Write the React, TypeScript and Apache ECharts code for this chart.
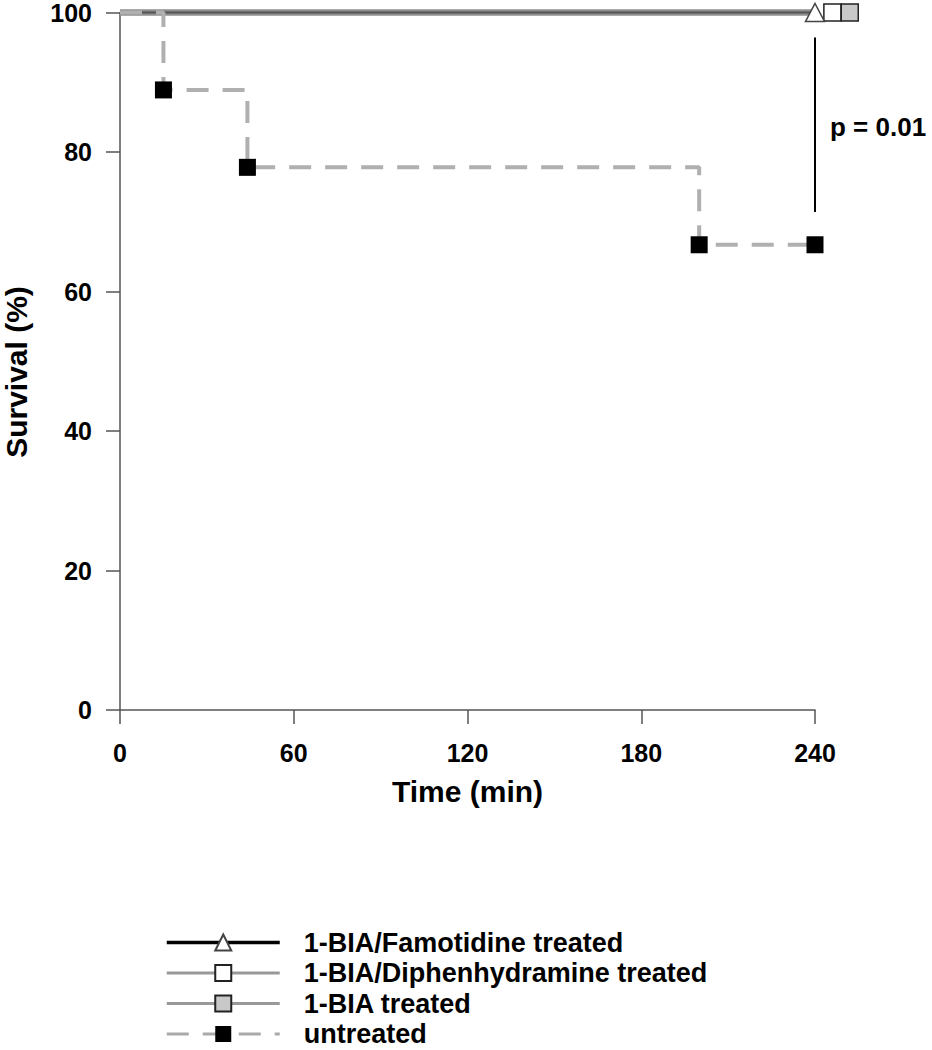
import React, { useEffect, useRef } from "react";
import * as echarts from "echarts";

// Kaplan–Meier style survival data (time in min, survival in %)
const famotidineData: [number, number][] = [[0, 100], [240, 100]];
const diphenhydramineData: [number, number][] = [[0, 100], [246, 100]];
const biaData: [number, number][] = [[0, 100], [252, 100]];
const untreatedData: [number, number][] = [
  [0, 100],
  [15, 88.9],
  [44, 77.8],
  [200, 66.7],
  [240, 66.7],
];
const xTicks = [0, 60, 120, 180, 240];
const yTicks = [0, 20, 40, 60, 80, 100];
const pLine: [number, number][] = [[240, 96.4], [240, 71.4]];
const pText = "p = 0.01";
const seriesNames = [
  "1-BIA/Famotidine treated",
  "1-BIA/Diphenhydramine treated",
  "1-BIA treated",
  "untreated",
];

const FONT = "'Liberation Sans', Arial, Helvetica, sans-serif";

function lastOnly(data: [number, number][]) {
  return data.map((d, i) =>
    i === data.length - 1 ? { value: d } : { value: d, symbol: "none" }
  );
}

export default function App() {
  const ref = useRef<HTMLDivElement>(null);
  useEffect(() => {
    document.body.style.margin = "0";
    if (!ref.current) return;
    const chart = echarts.init(ref.current, undefined, { renderer: "svg" });
    const axisColor = "#555";
    const option: any = {
      animation: false,
      backgroundColor: "#fff",
      grid: { left: 120, right: 117, top: 12, bottom: 340, containLabel: false },
      xAxis: {
        type: "value",
        min: xTicks[0],
        max: xTicks[xTicks.length - 1],
        interval: 60,
        name: "Time (min)",
        nameLocation: "middle",
        nameGap: 66,
        nameTextStyle: { fontFamily: FONT, fontWeight: "bold", fontSize: 30, color: "#000" },
        axisLine: { show: true, onZero: false, lineStyle: { color: axisColor, width: 1.5 } },
        axisTick: { show: true, inside: false, length: 14, lineStyle: { color: axisColor, width: 1.5 } },
        axisLabel: { margin: 30, fontFamily: FONT, fontWeight: "bold", fontSize: 25, color: "#000" },
        splitLine: { show: false },
      },
      yAxis: {
        type: "value",
        min: yTicks[0],
        max: yTicks[yTicks.length - 1],
        interval: 20,
        axisLine: { show: true, lineStyle: { color: axisColor, width: 1.5 } },
        axisTick: { show: true, inside: false, length: 14, lineStyle: { color: axisColor, width: 1.5 } },
        axisLabel: { margin: 28, fontFamily: FONT, fontWeight: "bold", fontSize: 25, color: "#000" },
        splitLine: { show: false },
      },
      legend: {
        orient: "vertical",
        left: 165,
        top: 929,
        padding: 0,
        itemWidth: 113,
        itemHeight: 20,
        itemGap: 3.5,
        selectedMode: false,
        textStyle: {
          fontFamily: FONT,
          fontWeight: "bold",
          fontSize: 27,
          lineHeight: 26,
          color: "#000",
          padding: [0, 0, 0, 19],
        },
        data: [
          { name: seriesNames[0], lineStyle: { color: "#000", width: 3.5 } },
          { name: seriesNames[1], lineStyle: { color: "#999", width: 3 } },
          { name: seriesNames[2], lineStyle: { color: "#999", width: 3 } },
          { name: seriesNames[3], lineStyle: { color: "#aaa", width: 3 } },
        ],
      },
      graphic: [
        {
          type: "text",
          x: 16,
          y: 372,
          rotation: Math.PI / 2,
          style: {
            text: "Survival (%)",
            fontFamily: FONT,
            fontWeight: "bold",
            fontSize: 30,
            fill: "#000",
            align: "center",
            verticalAlign: "middle",
          },
        },
        {
          type: "text",
          x: 830,
          y: 127,
          style: {
            text: pText,
            fontFamily: FONT,
            fontWeight: "bold",
            fontSize: 26,
            fill: "#000",
            align: "left",
            verticalAlign: "middle",
          },
        },
      ],
      series: [
        {
          name: seriesNames[2],
          type: "line",
          data: lastOnly(biaData),
          clip: false,
          z: 2,
          symbol: "rect",
          symbolSize: 17,
          showSymbol: true,
          lineStyle: { color: "#8f8f8f", width: 6 },
          itemStyle: { color: "#c8c8c8", borderColor: "#222", borderWidth: 1.5 },
        },
        {
          name: seriesNames[1],
          type: "line",
          data: lastOnly(diphenhydramineData),
          clip: false,
          z: 3,
          symbol: "rect",
          symbolSize: 17,
          lineStyle: { color: "#8f8f8f", width: 6 },
          itemStyle: { color: "#fff", borderColor: "#222", borderWidth: 1.5 },
        },
        {
          name: seriesNames[0],
          type: "line",
          data: lastOnly(famotidineData),
          clip: false,
          z: 4,
          symbol: "triangle",
          symbolSize: [19, 18],
          lineStyle: { color: "#555", width: 2 },
          itemStyle: { color: "#fff", borderColor: "#444", borderWidth: 1.5 },
        },
        {
          name: seriesNames[3],
          type: "line",
          step: "end",
          data: untreatedData.map((d, i) => (i === 0 ? { value: d, symbol: "none" } : { value: d })),
          clip: false,
          z: 5,
          symbol: "rect",
          symbolSize: 17,
          lineStyle: { color: "#b0b0b0", width: 4, type: [22, 14] },
          itemStyle: { color: "#000", borderColor: "#000", borderWidth: 0 },
          markLine: {
            silent: true,
            symbol: ["none", "none"],
            label: { show: false },
            lineStyle: { color: "#000", width: 2, type: "solid" },
            emphasis: { disabled: true },
            data: [[{ coord: pLine[0] }, { coord: pLine[1] }]],
          },
        },
      ],
    };
    chart.setOption(option);
    return () => chart.dispose();
  }, []);
  return <div ref={ref} style={{ width: 932, height: 1050 }} />;
}
